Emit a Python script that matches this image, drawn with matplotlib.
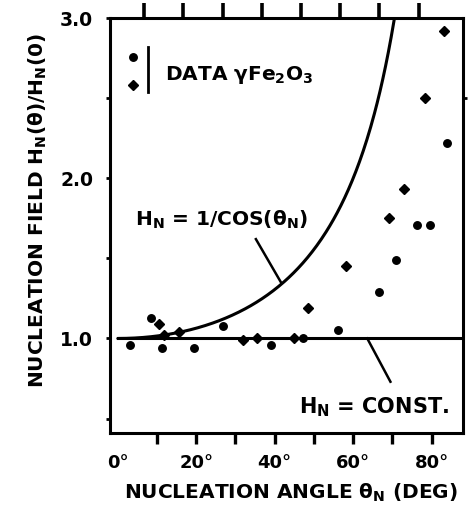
import numpy as np
import matplotlib
matplotlib.use("Agg")
import matplotlib.pyplot as plt

# Measured nucleation fields, normalised to H_N(0)
circle_theta = [3.1, 8.5, 11.3, 19.4, 26.7, 39.0, 47.3, 56.2, 66.6, 70.9, 76.2, 79.5, 83.8]
circle_field = [0.96, 1.13, 0.94, 0.94, 1.08, 0.96, 1.00, 1.05, 1.29, 1.49, 1.71, 1.71, 2.22]
diamond_theta = [10.5, 11.8, 15.6, 32.0, 35.6, 44.8, 48.4, 58.3, 69.2, 73.0, 78.4, 83.2]
diamond_field = [1.09, 1.02, 1.04, 0.99, 1.00, 1.00, 1.19, 1.45, 1.75, 1.93, 2.50, 2.92]

x_tick_values = [0, 20, 40, 60, 80]
x_tick_labels = ["0°", "20°", "40°", "60°", "80°"]
y_tick_values = [1.0, 2.0, 3.0]
y_tick_labels = ["1.0", "2.0", "3.0"]

FONT = "DejaVu Sans"
plt.rcParams["font.family"] = [FONT]
plt.rcParams["font.weight"] = "bold"
plt.rcParams["mathtext.fontset"] = "custom"
plt.rcParams["mathtext.rm"] = f"{FONT}:bold"
plt.rcParams["mathtext.it"] = f"{FONT}:bold"
plt.rcParams["mathtext.bf"] = f"{FONT}:bold"
plt.rcParams["mathtext.default"] = "rm"

fig = plt.figure(figsize=(4.71, 5.09), dpi=100)
ax = fig.add_axes([0.2335, 0.1493, 0.7495, 0.8153])
ax.set_xlim(-2, 88)
ax.set_ylim(0.41, 3.0)

for s in ax.spines.values():
    s.set_linewidth(2.2)

# Model curves
th = np.linspace(0, np.degrees(np.arccos(1 / 3.05)), 300)
ax.plot(th, 1 / np.cos(np.radians(th)), color="black", lw=2.2, solid_capstyle="round")
ax.plot([0, 88], [1.0, 1.0], color="black", lw=2.2)

# Data
ax.plot(circle_theta, circle_field, "o", color="black", ms=5.4, mec="black")
ax.plot(diamond_theta, diamond_field, "D", color="black", ms=4.8, mec="black")

# Ticks
ax.set_xticks(x_tick_values, x_tick_labels, fontsize=13, fontweight="bold")
ax.set_xticks(np.arange(10, 81, 10), minor=True)
ax.xaxis.remove_overlapping_locs = False
ax.tick_params(axis="x", which="major", length=0, pad=15)
ax.tick_params(axis="x", which="minor", direction="out", length=8, width=2.4, pad=4)

ax.set_yticks(y_tick_values, y_tick_labels, fontsize=13.5, fontweight="bold")
ax.set_yticks([0.5, 1.5, 2.5], minor=True)
ax.yaxis.remove_overlapping_locs = False
ax.tick_params(axis="y", which="both", direction="out", length=3, width=2.0, pad=9)

top = ax.secondary_xaxis("top")
top.set_xticks(np.arange(10, 81, 10) - 3.3, [])
top.tick_params(direction="out", length=11, width=2.6)
top.spines["top"].set_visible(False)

right = ax.secondary_yaxis("right")
right.set_yticks([2.5], [])
right.tick_params(direction="out", length=3, width=2.0)
right.spines["right"].set_visible(False)

# Axis titles
ax.set_xlabel(r"NUCLEATION ANGLE θ$_N$ (DEG)", fontsize=14.5, fontweight="bold")
ax.xaxis.set_label_coords(0.513, -0.118)
ax.set_ylabel(r"NUCLEATION FIELD H$_N$(θ)/H$_N$(0)", fontsize=14.5, fontweight="bold")
ax.yaxis.set_label_coords(-0.172, 0.535)

# Legend
ax.plot([0.065], [0.906], "o", color="black", ms=5.4, transform=ax.transAxes, clip_on=False)
ax.plot([0.065], [0.839], "D", color="black", ms=4.8, transform=ax.transAxes, clip_on=False)
ax.plot([0.108, 0.108], [0.822, 0.930], color="black", lw=2.0, transform=ax.transAxes)
ax.text(0.156, 0.863, r"DATA γFe$_2$O$_3$", transform=ax.transAxes, fontsize=14.5,
        fontweight="bold", va="center", ha="left")

# Curve annotations
ax.text(4.5, 1.74, r"H$_N$ = 1/COS(θ$_N$)", fontsize=14.5, fontweight="bold", va="center", ha="left")
ax.plot([35.2, 41.6], [1.62, 1.35], color="black", lw=1.8)
ax.text(46.3, 0.57, r"H$_N$ = CONST.", fontsize=15, fontweight="bold", va="center", ha="left")
ax.plot([63.6, 69.5], [1.0, 0.73], color="black", lw=1.8)

fig.savefig("out.png", dpi=100)
